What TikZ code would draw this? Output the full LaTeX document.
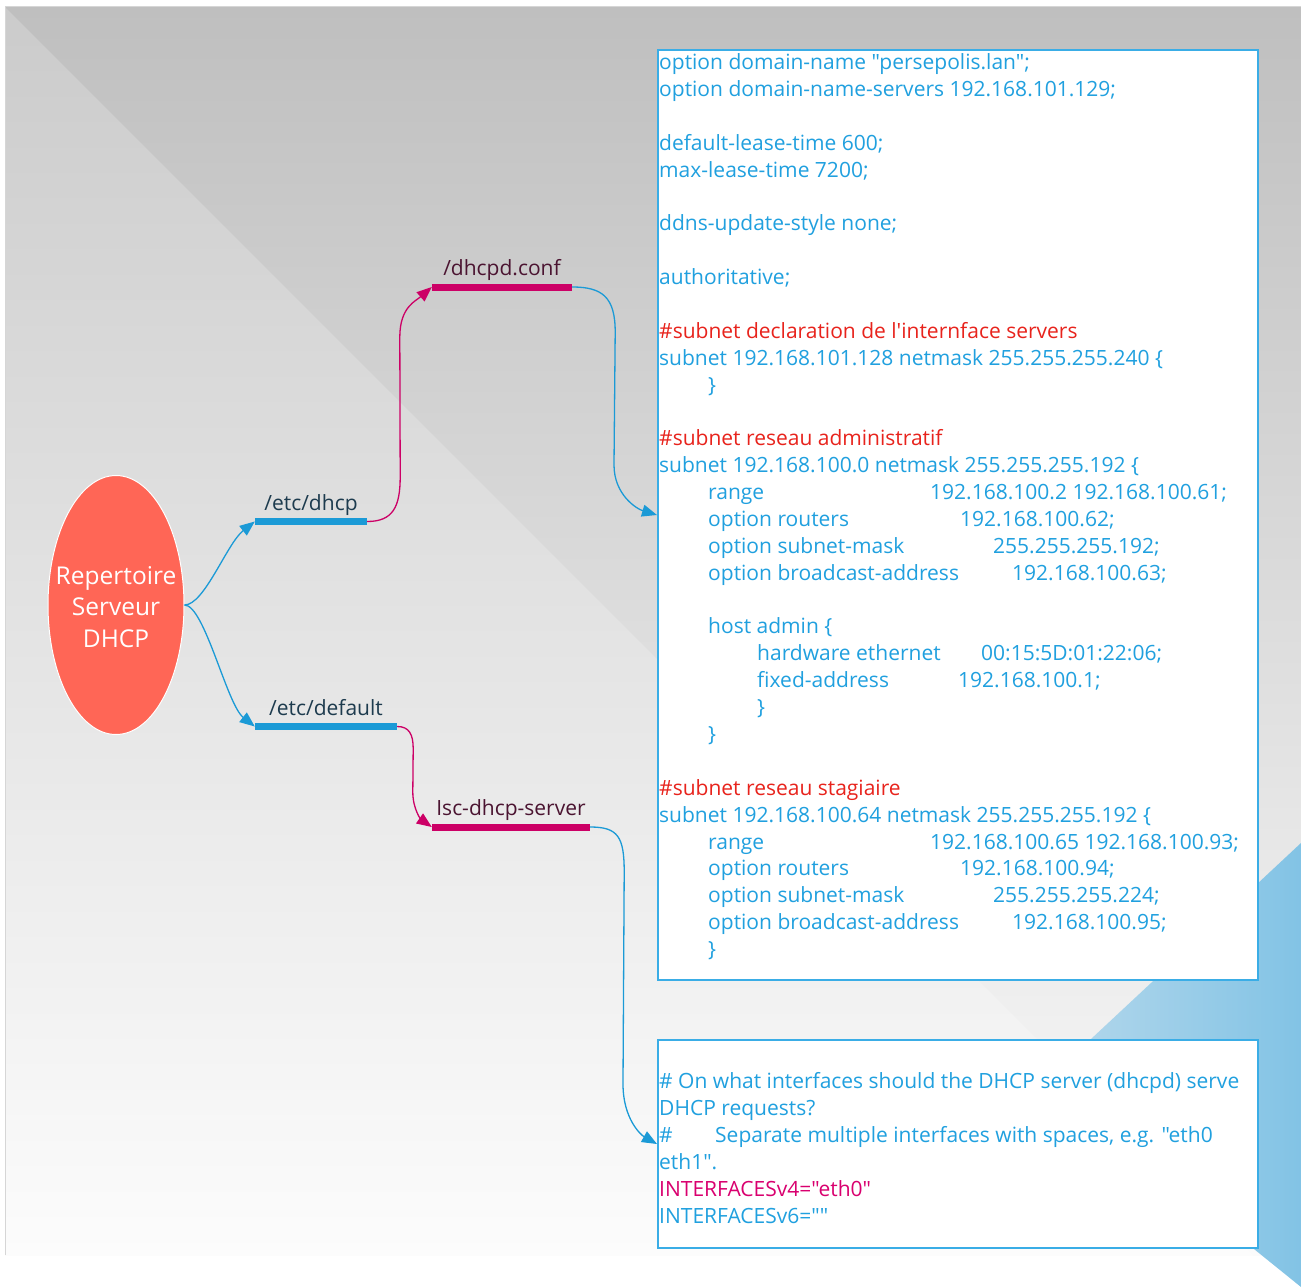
\documentclass[tikz,border=0pt]{standalone}
\usepackage{fontspec}
\setmainfont{Open Sans}[Ligatures=TeXOff]
\usetikzlibrary{arrows.meta,shapes.geometric,calc}

\definecolor{txtblue}{HTML}{20A0DF}
\definecolor{boxline}{HTML}{3AADE6}
\definecolor{cmtred}{HTML}{E8231C}
\definecolor{keymag}{HTML}{D9006F}
\definecolor{barblue}{HTML}{1B9AD6}
\definecolor{barmag}{HTML}{CC0066}
\definecolor{lblblue}{HTML}{1D3B4E}
\definecolor{lblmag}{HTML}{4B1431}
\definecolor{coral}{HTML}{FF6656}
\definecolor{lighttop}{HTML}{CBCBCB}
\definecolor{lightbot}{HTML}{FCFCFC}
\definecolor{darktop}{HTML}{BFBFBF}
\definecolor{darkbot}{HTML}{FBFBFB}
\definecolor{skyA}{HTML}{B7D9EC}
\definecolor{skyB}{HTML}{82C3E5}
\definecolor{rimgray}{HTML}{D6D6D6}

\newcommand\codefont{\fontsize{21}{26.88}\selectfont}
\newcommand\tabat[2]{\makebox[#1pt][l]{#2}}
% one line of the dhcpd.conf listing, by line index
\newcommand\codeln[3]{\node[code] (#1) at (659,{-(69.5+26.88*#2)}) {#3};}
% one line of the isc-dhcp-server listing, by line index
\newcommand\defln[3]{\node[code] (#1) at (659,{-(1088.5+27*#2)}) {#3};}

\tikzset{
  code/.style={font=\codefont, text=txtblue, inner sep=0pt, anchor=base west},
  filebox/.style={rectangle, draw=boxline, line width=2pt, fill=white, inner sep=0pt},
  bar/.style={rectangle, inner sep=0pt, minimum height=7pt},
  lbl/.style={font=\fontsize{21}{25}\selectfont, inner sep=0pt, anchor=base},
  con/.style={line width=1.3pt, -{Triangle[length=15pt,width=12pt]}},
}

\begin{document}
\begin{tikzpicture}[x=1pt,y=1pt]
  % page and background
  \useasboundingbox (0,0) rectangle (1301,-1287);
  \fill[white] (0,0) rectangle (1301,-1287);
  \shade[top color=lighttop, bottom color=lightbot] (5,-7) rectangle (1301,-1255);
  \shade[top color=darktop, bottom color=darkbot]
    (5,-7) -- (1301,-7) -- (1301,-1255) -- (1253,-1255) -- cycle;
  \shade[left color=skyA, right color=skyB]
    (1301,-843) -- (1046,-1081) -- (1301,-1287) -- cycle;
  \draw[rimgray, line width=1pt] (5,-1255) -- (5,-7) -- (1301,-7);

  % file boxes
  \node[filebox, minimum width=600pt, minimum height=930pt] (box1) at (958,-515) {};
  \node[filebox, minimum width=600pt, minimum height=208pt] (box2) at (958,-1144) {};

  % root topic
  \node[ellipse, fill=coral, draw=white, line width=1pt, inner sep=0pt,
        minimum width=136pt, minimum height=259pt] (root) at (116,-605) {};
  \node[align=center, text=white, inner sep=0pt,
        font=\fontsize{24.5}{31.5}\selectfont] (rootT) at ([yshift=-2pt]root.center)
        {Repertoire\\Serveur\\DHCP};

  % topic bars
  \node[bar, fill=barblue, minimum width=112pt] (etcdhcp) at (311,-521.5) {};
  \node[bar, fill=barblue, minimum width=142pt] (etcdef) at (326,-726.5) {};
  \node[bar, fill=barmag, minimum width=140pt] (dconf) at (502,-287) {};
  \node[bar, fill=barmag, minimum width=158pt] (isc) at (511,-827) {};

  \node[lbl, text=lblblue] (etcdhcpL) at ([yshift=7pt]etcdhcp.north) {/etc/dhcp};
  \node[lbl, text=lblblue] (etcdefL) at ([yshift=7pt]etcdef.north) {/etc/default};
  \node[lbl, text=lblmag] (dconfL) at ([yshift=8pt]dconf.north) {/dhcpd.conf};
  \node[lbl, text=lblmag] (iscL) at ([yshift=8pt]isc.north) {Isc-dhcp-server};

  % connectors
  \draw[con, barblue] (root.east) .. controls +(20,0) and +(-28,-22) .. (etcdhcp.west);
  \draw[con, barblue] (root.east) .. controls +(20,0) and +(-28,22) .. (etcdef.west);
  \draw[con, barmag] (etcdhcp.east) .. controls +(26,0) and +(0,-30) .. ($(etcdhcp.east)+(33,45)$)
    -- ($(dconf.west)+(-32,-50)$) .. controls +(0,30) and +(-16,-14) .. (dconf.west);
  \draw[con, barblue] (dconf.east) .. controls +(30,0) and +(0,35) .. ($(dconf.east)+(43,-45)$)
    -- ($(box1.west)+(-43,50)$) .. controls +(0,-30) and +(-20,6) .. (box1.west);
  \draw[con, barmag] (etcdef.east) .. controls +(12,0) and +(0,14) .. ($(etcdef.east)+(16,-22)$)
    -- ($(isc.west)+(-19,35)$) .. controls +(0,-18) and +(-10,7) .. (isc.west);
  \draw[con, barblue] (isc.east) .. controls +(28,0) and +(0,35) .. ($(isc.east)+(34,-45)$)
    -- ($(box2.west)+(-34,60)$) .. controls +(0,-35) and +(-16,9) .. (box2.west);

  % dhcpd.conf listing
  \codeln{c0}{0}{option domain-name "persepolis.lan";}
  \codeln{c1}{1}{option domain-name-servers 192.168.101.129;}
  \codeln{c3}{3}{default-lease-time 600;}
  \codeln{c4}{4}{max-lease-time 7200;}
  \codeln{c6}{6}{ddns-update-style none;}
  \codeln{c8}{8}{authoritative;}
  \codeln{c10}{10}{\textcolor{cmtred}{\#subnet declaration de l'internface servers}}
  \codeln{c11}{11}{subnet 192.168.101.128 netmask 255.255.255.240 \{}
  \codeln{c12}{12}{\hspace*{49pt}\}}
  \codeln{c14}{14}{\textcolor{cmtred}{\#subnet reseau administratif}}
  \codeln{c15}{15}{subnet 192.168.100.0 netmask 255.255.255.192 \{}
  \codeln{c16}{16}{\tabat{271}{\hspace*{49pt}range}192.168.100.2 192.168.100.61;}
  \codeln{c17}{17}{\tabat{301}{\hspace*{49pt}option routers}192.168.100.62;}
  \codeln{c18}{18}{\tabat{334}{\hspace*{49pt}option subnet-mask}255.255.255.192;}
  \codeln{c19}{19}{\tabat{353}{\hspace*{49pt}option broadcast-address}192.168.100.63;}
  \codeln{c21}{21}{\hspace*{49pt}host admin \{}
  \codeln{c22}{22}{\tabat{322}{\hspace*{98pt}hardware ethernet}00:15:5D:01:22:06;}
  \codeln{c23}{23}{\tabat{299}{\hspace*{98pt}fixed-address}192.168.100.1;}
  \codeln{c24}{24}{\hspace*{98pt}\}}
  \codeln{c25}{25}{\hspace*{49pt}\}}
  \codeln{c27}{27}{\textcolor{cmtred}{\#subnet reseau stagiaire}}
  \codeln{c28}{28}{subnet 192.168.100.64 netmask 255.255.255.192 \{}
  \codeln{c29}{29}{\tabat{271}{\hspace*{49pt}range}192.168.100.65 192.168.100.93;}
  \codeln{c30}{30}{\tabat{301}{\hspace*{49pt}option routers}192.168.100.94;}
  \codeln{c31}{31}{\tabat{334}{\hspace*{49pt}option subnet-mask}255.255.255.224;}
  \codeln{c32}{32}{\tabat{353}{\hspace*{49pt}option broadcast-address}192.168.100.95;}
  \codeln{c33}{33}{\hspace*{49pt}\}}

  % isc-dhcp-server listing
  \defln{d0}{0}{\# On what interfaces should the DHCP server (dhcpd) serve}
  \defln{d1}{1}{DHCP requests?}
  \defln{d2}{2}{\tabat{56}{\#}Separate multiple interfaces with spaces, e.g. "eth0}
  \defln{d3}{3}{eth1".}
  \defln{d4}{4}{\textcolor{keymag}{INTERFACESv4="eth0"}}
  \defln{d5}{5}{INTERFACESv6=""}
\end{tikzpicture}
\end{document}
